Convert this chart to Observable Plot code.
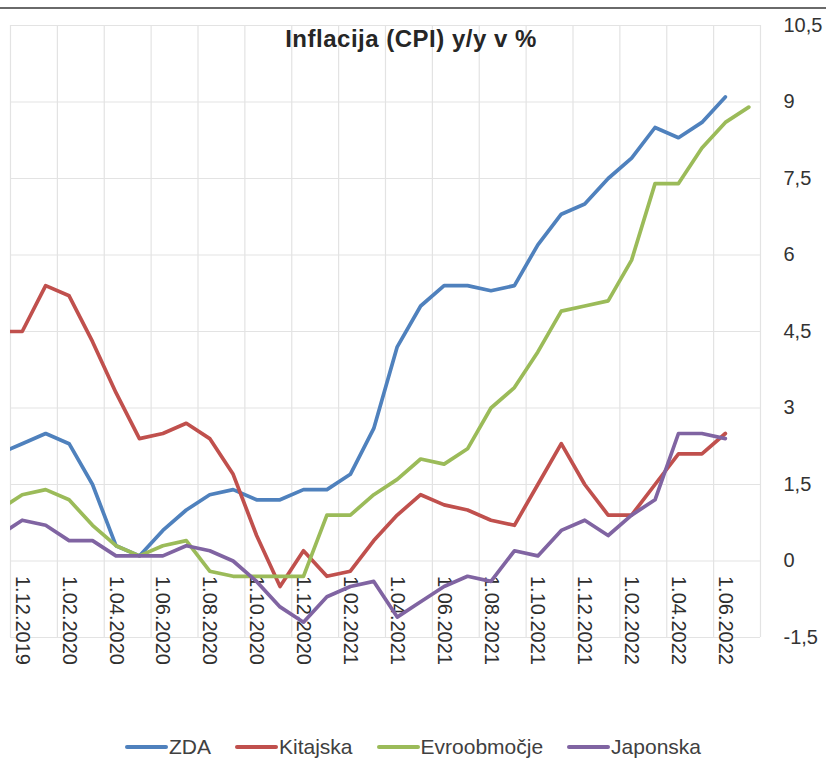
<!DOCTYPE html>
<html>
<head>
<meta charset="utf-8">
<script src="https://cdn.jsdelivr.net/npm/d3@7"></script>
<script src="https://cdn.jsdelivr.net/npm/@observablehq/plot@0.6"></script>
<style>
  html, body { margin: 0; padding: 0; background: #fff; }
  body { width: 826px; height: 760px; overflow: hidden; font-family: "Liberation Sans", Arial, sans-serif; }
  #wrap { position: relative; width: 826px; height: 760px; }
  #topline { position: absolute; left: 0; top: 7px; width: 826px; height: 2px; background: #6a6a6a; }
  #title { position: absolute; left: 0; top: 27px; width: 822px; text-align: center; font-weight: bold; font-size: 24px; line-height: 24px; letter-spacing: 0.5px; color: #262626; }
  #chart { position: absolute; left: 0; top: 0; }
  #legend { position: absolute; left: 0; top: 727px; width: 826px; height: 40px; display: flex; justify-content: center; align-items: center; font-size: 21px; color: #404040; }
  .item { display: flex; align-items: center; margin: 0 12px; }
  .sw { width: 43px; height: 4px; border-radius: 2px; margin-right: 1px; }
</style>
</head>
<body>
<div id="wrap">
  <div id="chart"></div>
  <div id="topline"></div>
  <div id="title">Inflacija (CPI) y/y v %</div>
  <div id="legend"></div>
</div>
<script>
// Months from Nov 2019 to Jul 2022 (index 0..32)
const months = ["2019-11","2019-12","2020-01","2020-02","2020-03","2020-04","2020-05","2020-06","2020-07","2020-08","2020-09","2020-10","2020-11","2020-12","2021-01","2021-02","2021-03","2021-04","2021-05","2021-06","2021-07","2021-08","2021-09","2021-10","2021-11","2021-12","2022-01","2022-02","2022-03","2022-04","2022-05","2022-06","2022-07"];

const zda = [2.1, 2.3, 2.5, 2.3, 1.5, 0.3, 0.1, 0.6, 1.0, 1.3, 1.4, 1.2, 1.2, 1.4, 1.4, 1.7, 2.6, 4.2, 5.0, 5.4, 5.4, 5.3, 5.4, 6.2, 6.8, 7.0, 7.5, 7.9, 8.5, 8.3, 8.6, 9.1, null];
const kitajska = [4.5, 4.5, 5.4, 5.2, 4.3, 3.3, 2.4, 2.5, 2.7, 2.4, 1.7, 0.5, -0.5, 0.2, -0.3, -0.2, 0.4, 0.9, 1.3, 1.1, 1.0, 0.8, 0.7, 1.5, 2.3, 1.5, 0.9, 0.9, 1.5, 2.1, 2.1, 2.5, null];
const evroobmocje = [1.0, 1.3, 1.4, 1.2, 0.7, 0.3, 0.1, 0.3, 0.4, -0.2, -0.3, -0.3, -0.3, -0.3, 0.9, 0.9, 1.3, 1.6, 2.0, 1.9, 2.2, 3.0, 3.4, 4.1, 4.9, 5.0, 5.1, 5.9, 7.4, 7.4, 8.1, 8.6, 8.9];
const japonska = [0.5, 0.8, 0.7, 0.4, 0.4, 0.1, 0.1, 0.1, 0.3, 0.2, 0.0, -0.4, -0.9, -1.2, -0.7, -0.5, -0.4, -1.1, -0.8, -0.5, -0.3, -0.4, 0.2, 0.1, 0.6, 0.8, 0.5, 0.9, 1.2, 2.5, 2.5, 2.4, null];

const seriesNames = ["ZDA", "Kitajska", "Evroobmočje", "Japonska"];
const seriesColors = ["#4F81BD", "#C0504D", "#9BBB59", "#8064A2"];
const seriesValues = [zda, kitajska, evroobmocje, japonska];

const yTicks = [-1.5, 0, 1.5, 3, 4.5, 6, 7.5, 9, 10.5];
// labelled months: every second month starting Dec 2019
const labelMonths = ["2019-12","2020-02","2020-04","2020-06","2020-08","2020-10","2020-12","2021-02","2021-04","2021-06","2021-08","2021-10","2021-12","2022-02","2022-04","2022-06"];

const idx = m => months.indexOf(m);
const fmtLabel = m => { const [y, mo] = m.split("-"); return `1.${mo}.${y}`; };

const rows = [];
seriesNames.forEach((name, s) => {
  seriesValues[s].forEach((v, i) => rows.push({series: name, i, v}));
});

// vertical gridlines sit between labelled pairs of months
const xGrid = d3.range(0.5, months.length, 2);

const chart = Plot.plot({
  width: 826,
  height: 720,
  marginLeft: 10,
  marginRight: 66,
  marginTop: 25,
  marginBottom: 83,
  style: {fontFamily: "'Liberation Sans', Arial, sans-serif", background: "transparent"},
  x: {type: "linear", domain: [0.5, months.length - 0.5], axis: null},
  y: {domain: [-1.5, 10.5], axis: null},
  color: {domain: seriesNames, range: seriesColors},
  marks: [
    Plot.ruleX(xGrid, {x: d => d, stroke: "#e3e3e3", strokeWidth: 1.2}),
    Plot.ruleY(yTicks, {y: d => d, stroke: "#e3e3e3", strokeWidth: 1.2}),
    Plot.axisY({
      anchor: "right", ticks: yTicks, tickSize: 0, tickPadding: 23,
      tickFormat: d => String(d).replace(".", ","), fontSize: 20, color: "#333", label: null
    }),
    Plot.text(labelMonths, {
      x: d => idx(d), y: 0, text: d => fmtLabel(d), rotate: 90,
      textAnchor: "start", lineAnchor: "middle", dy: 15, fontSize: 20, fill: "#2e2e2e"
    }),
    ...seriesNames.map(name => Plot.lineY(rows.filter(r => r.series === name), {
      x: "i", y: "v", stroke: "series", strokeWidth: 3.7, clip: true,
      strokeLinejoin: "round", strokeLinecap: "round"
    }))
  ]
});
document.getElementById("chart").appendChild(chart);

const legend = document.getElementById("legend");
seriesNames.forEach((name, s) => {
  const it = document.createElement("div");
  it.className = "item";
  const sw = document.createElement("span");
  sw.className = "sw";
  sw.style.background = seriesColors[s];
  const tx = document.createElement("span");
  tx.textContent = name;
  it.appendChild(sw); it.appendChild(tx);
  legend.appendChild(it);
});
</script>
</body>
</html>
